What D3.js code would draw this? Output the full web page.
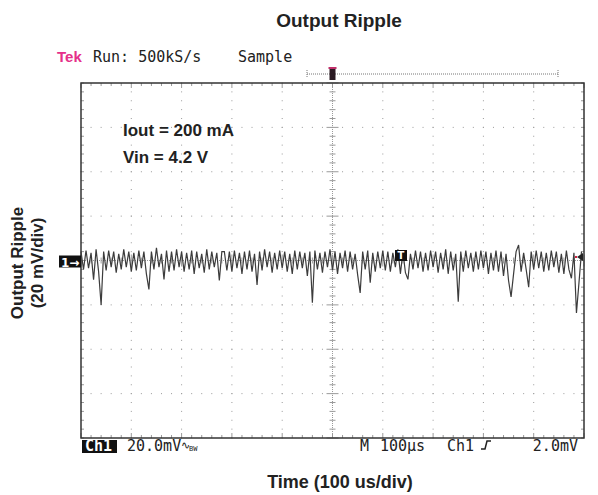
<!DOCTYPE html>
<html lang="en">
<head>
    <meta charset="UTF-8">
    <title>output-ripple</title>
    <style>
        body {
            margin: 0;
            background: white;
        }
        .scope { font-family: "DejaVu Sans Mono", monospace; font-size: 15px; fill: #222; }
        .lbl { font-family: "Liberation Sans", Arial, sans-serif; font-weight: bold; fill: #222; }
    </style>
    <script src="https://d3js.org/d3.v7.min.js"></script>
</head>
<body>
<script>

    // ripple samples, mV, one every 5 us
    let ripple = [
        4, -4, 4.5, -3.5, 3.5, -8.7, 5, -5, -20, 4, -4.5, 4.5, -3, 4, -5.5, 3, -4, 5, -3, 4,
        -5, 3.5, -4.5, 4.5, -3.5, 4, -6, -13, 4, -4, 5.7, -3, 3, -8.5, 4.5, -5, 4, -4.5, 5, -3,
        4, -5, 3.5, -4, 4.5, -6, 4, -3.5, 3, -5.5, 5, -4, 4, -3, 3.5, -9, 4, 4, -4.5, 4,
        -5, 4.5, -3.5, 3.5, -6, 4, -4, 4.5, -5, 3, -11, 4, -4.5, 5, -3, 4, -5.5, 3.5, -4, 4.5,
        -3.5, 4, -5, 3, -6, 4.5, -4, 4, -3.5, 3.5, -7, 4, -19, 4.5, -4, 3.5, -5.5, 4, -3, 5,
        -4.5, 4, -6, 3.5, -3.5, 4.5, -5, 4, -4, 3, -6.5, -14.6, 4, -4, 4.5, -10, 3.5, -5, 4, -3.5,
        4.5, -4.5, 4, -5, 3.5, -3, 5, -6, 4, -5.5, -8.5, 3, -4, 4.5, -3.5, 4, -5, 3.5, -4.5, 4.5,
        -3, 4, -5.5, 3.5, -4, 5, -6, 4, -4.5, 3, -18.6, 4, -5, 4.5, -3.5, 3.5, -5, 4, -4, 4.5,
        -3.5, 4, -6, 3.5, -4.5, 4.5, -5, 4, -7, 3, -9, -16.4, -6, 4, 7, -5, 3.5, -4, -12, 4,
        -4, 4.5, -3.5, 4, -5, 3.5, -4.5, 4.5, -3, 4, -5.5, 3, -6, 4.5, -4, -8, 3.5, -23.6, -10, 4
    ];
    let sampleStep = 5; // us

    let timeDivs = [0, 100, 200, 300, 400, 500, 600, 700, 800, 900, 1000];
    let voltDivs = [-80, -60, -40, -20, 0, 20, 40, 60, 80];

    let annotations = ["Iout = 200 mA", "Vin = 4.2 V"];

    let width = 598, height = 495;
    let svg = d3.select("body").append("svg")
        .attr("width", width).attr("height", height);

    let x = d3.scaleLinear().domain([0, 1000]).range([81, 584]);
    let y = d3.scaleLinear().domain([-80, 80]).range([438, 83]);

    // title + axis labels
    svg.append("text").attr("class", "lbl")
        .attr("x", 339).attr("y", 27)
        .attr("text-anchor", "middle").style("font-size", "19px")
        .text("Output Ripple");

    svg.append("text").attr("class", "lbl")
        .attr("x", 340).attr("y", 488)
        .attr("text-anchor", "middle").style("font-size", "18px")
        .text("Time (100 us/div)");

    let yl = svg.append("g").attr("transform", "translate(0,263) rotate(-90)");
    yl.append("text").attr("class", "lbl").attr("x", 0).attr("y", 23)
        .attr("text-anchor", "middle").style("font-size", "17px").text("Output Ripple");
    yl.append("text").attr("class", "lbl").attr("x", 0).attr("y", 43)
        .attr("text-anchor", "middle").style("font-size", "17px").text("(20 mV/div)");

    // scope header
    svg.append("text").attr("x", 57).attr("y", 62)
        .style("font-family", "Liberation Sans, Arial, sans-serif")
        .style("font-size", "15px").style("font-weight", "bold")
        .style("fill", "#e5308a").text("Tek");
    svg.append("text").attr("class", "scope").attr("x", 93).attr("y", 62).text("Run: 500kS/s");
    svg.append("text").attr("class", "scope").attr("x", 238).attr("y", 62).text("Sample");

    // record bracket with trigger position
    let br = svg.append("g");
    br.append("line").attr("x1", 307).attr("x2", 558).attr("y1", 74).attr("y2", 74)
        .attr("stroke", "#777").attr("stroke-dasharray", "1,1");
    [307, 558].forEach(function (bx) {
        br.append("line").attr("x1", bx).attr("x2", bx).attr("y1", 70).attr("y2", 78)
            .attr("stroke", "#777").attr("stroke-dasharray", "1,1");
    });
    br.append("rect").attr("x", x(500) - 3).attr("y", 68).attr("width", 6).attr("height", 12)
        .attr("fill", "#2a1a22");
    br.append("rect").attr("x", x(500) - 4).attr("y", 67).attr("width", 8).attr("height", 2)
        .attr("fill", "#c0306a");

    // graticule dots
    let grid = svg.append("g").attr("fill", "#9a9a9a");
    timeDivs.slice(1, -1).forEach(function (t) {
        if (t === 500) return;
        d3.range(-80, 80.1, 4).forEach(function (v) {
            grid.append("rect").attr("x", x(t) - 0.5).attr("y", y(v) - 0.5)
                .attr("width", 1).attr("height", 1);
        });
    });
    voltDivs.slice(1, -1).forEach(function (v) {
        if (v === 0) return;
        d3.range(0, 1000.1, 20).forEach(function (t) {
            grid.append("rect").attr("x", x(t) - 0.5).attr("y", y(v) - 0.5)
                .attr("width", 1).attr("height", 1);
        });
    });

    // centre axes with minor ticks
    let ax = svg.append("g").attr("stroke", "#9a9a9a").attr("stroke-width", 1);
    ax.append("line").attr("x1", x(500)).attr("x2", x(500)).attr("y1", y(80)).attr("y2", y(-80))
        .attr("stroke-dasharray", "1,1");
    ax.append("line").attr("x1", x(0)).attr("x2", x(1000)).attr("y1", y(0)).attr("y2", y(0))
        .attr("stroke-dasharray", "1,1");
    d3.range(-80, 80.1, 4).forEach(function (v) {
        let w = (v % 20 === 0) ? 6 : 3;
        ax.append("line").attr("x1", x(500) - w).attr("x2", x(500) + w)
            .attr("y1", y(v)).attr("y2", y(v));
        // edge ticks
        ax.append("line").attr("x1", x(0)).attr("x2", x(0) + 3).attr("y1", y(v)).attr("y2", y(v));
        ax.append("line").attr("x1", x(1000) - 3).attr("x2", x(1000)).attr("y1", y(v)).attr("y2", y(v));
    });
    d3.range(0, 1000.1, 20).forEach(function (t) {
        let h = (t % 100 === 0) ? 6 : 3;
        ax.append("line").attr("x1", x(t)).attr("x2", x(t))
            .attr("y1", y(0) - h).attr("y2", y(0) + h);
        ax.append("line").attr("x1", x(t)).attr("x2", x(t)).attr("y1", y(80)).attr("y2", y(80) + (h > 3 ? 5 : 3));
        ax.append("line").attr("x1", x(t)).attr("x2", x(t)).attr("y1", y(-80) - (h > 3 ? 5 : 3)).attr("y2", y(-80));
    });

    // frame
    svg.append("rect").attr("x", x(0)).attr("y", y(80))
        .attr("width", x(1000) - x(0)).attr("height", y(-80) - y(80))
        .attr("fill", "none").attr("stroke", "#333").attr("stroke-width", 1.5);

    // trace
    let line = d3.line()
        .x(function (d, i) { return x(i * sampleStep); })
        .y(function (d) { return y(d); });
    svg.append("path").datum(ripple)
        .attr("d", line)
        .attr("fill", "none").attr("stroke", "#3c3c3c").attr("stroke-width", 1.2);

    // channel marker "1->"
    let cm = svg.append("g");
    cm.append("rect").attr("x", 59).attr("y", y(0) - 5).attr("width", 22).attr("height", 12)
        .attr("fill", "#111");
    cm.append("text").attr("x", 61).attr("y", y(0) + 6)
        .style("font-family", "DejaVu Sans, sans-serif").style("font-size", "12px")
        .style("font-weight", "bold").style("fill", "white").text("1→");

    // trigger marker T
    let tm = svg.append("g");
    tm.append("rect").attr("x", 395).attr("y", 250).attr("width", 12).attr("height", 11).attr("fill", "#111");
    tm.append("text").attr("x", 401).attr("y", 259).attr("text-anchor", "middle")
        .style("font-family", "DejaVu Sans, sans-serif").style("font-size", "10px")
        .style("font-weight", "bold").style("fill", "white").text("T");
    // trigger level arrow
    svg.append("path").attr("d", d3.line()([[583, 253], [577, 257], [583, 261]]))
        .attr("fill", "#222");
    svg.append("rect").attr("x", 575).attr("y", 256).attr("width", 2).attr("height", 2).attr("fill", "#d02040");

    // annotations
    annotations.forEach(function (a, i) {
        svg.append("text").attr("class", "lbl")
            .attr("x", 123).attr("y", 136 + i * 27)
            .style("font-size", "17px").text(a);
    });

    // bottom readout
    svg.append("rect").attr("x", 82).attr("y", 440).attr("width", 35).attr("height", 13).attr("fill", "#111");
    svg.append("text").attr("class", "scope").attr("x", 85).attr("y", 451)
        .style("fill", "white").style("font-weight", "bold").text("Ch1");
    svg.append("text").attr("class", "scope").attr("x", 127).attr("y", 451).text("20.0mV");
    svg.append("text").attr("class", "scope").attr("x", 181).attr("y", 449)
        .style("font-size", "11px").text("∿");
    svg.append("text").attr("class", "scope").attr("x", 189).attr("y", 451)
        .style("font-size", "7px").text("BW");
    svg.append("text").attr("class", "scope").attr("x", 360).attr("y", 451).text("M");
    svg.append("text").attr("class", "scope").attr("x", 380).attr("y", 451).text("100µs");
    svg.append("text").attr("class", "scope").attr("x", 447).attr("y", 451).text("Ch1");
    svg.append("path").attr("d", "M481,449 L485,449 L487,441 L491,441")
        .attr("fill", "none").attr("stroke", "#222").attr("stroke-width", 1.5);
    svg.append("text").attr("class", "scope").attr("x", 578).attr("y", 451)
        .attr("text-anchor", "end").text("2.0mV");

</script>
</body>
</html>
